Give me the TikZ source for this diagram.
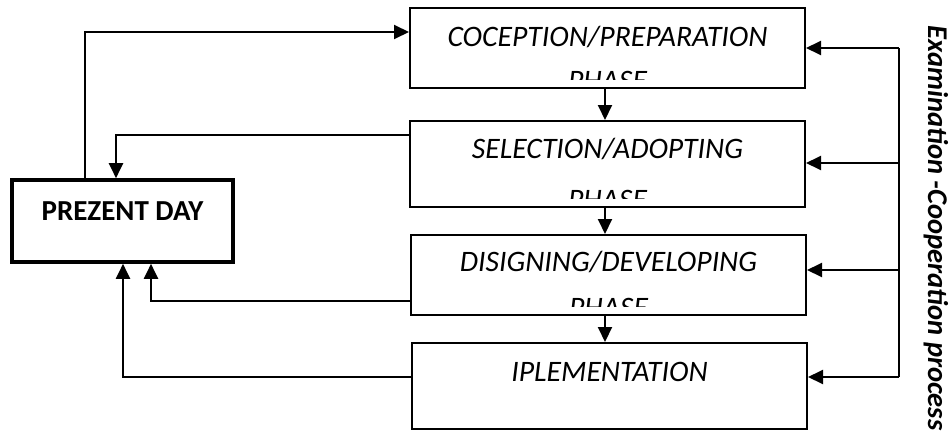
\documentclass[tikz,border=0pt]{standalone}
\usepackage{fontspec}
\setmainfont{Carlito}
\usepackage{tikz}
\usetikzlibrary{calc,positioning,arrows.meta}

\begin{document}
\begin{tikzpicture}[x=1pt,y=-1pt,
  phasebox/.style={draw,line width=2pt,minimum width=395pt,inner sep=0pt},
  daybox/.style={draw,line width=3.6pt,minimum width=221pt,minimum height=82pt,inner sep=0pt},
  phasetext/.style={font=\fontsize{29.7}{32}\selectfont\itshape,inner sep=0pt},
  flow/.style={line width=2pt,-{Triangle[length=15pt,width=14pt]}}]
\useasboundingbox (0,0) rectangle (950,434);

\node[daybox] (day) at (122.5,221) {};
\node[font=\fontsize{29}{32}\selectfont\bfseries,inner sep=0pt] (day-t) at (122.5,211) {PREZENT DAY};

\node[phasebox,minimum height=80pt] (conc) at (607.5,48) {};
\node[phasebox,minimum height=86pt] (sel) at (607.5,164) {};
\node[phasebox,minimum height=80pt] (des) at (608.5,275) {};
\node[phasebox,minimum height=86pt] (impl) at (609.5,386) {};

\node[phasetext] (conc-t) at ([yshift=-30pt]conc.north) {COCEPTION/PREPARATION};
\node[phasetext] (sel-t) at ([yshift=-29pt]sel.north) {SELECTION/ADOPTING};
\node[phasetext] (des-t) at ([yshift=-28pt]des.north) {DISIGNING/DEVELOPING};
\node[phasetext] (impl-t) at ([yshift=-30pt]impl.north) {IPLEMENTATION};

% second lines cut off by the box
\begin{scope}
\clip ([yshift=10pt]conc.south west) rectangle (conc.north east);
\node[phasetext,anchor=base] (conc-p) at ([yshift=-1pt]conc.south) {PHASE};
\end{scope}
\begin{scope}
\clip ([yshift=10pt]sel.south west) rectangle (sel.north east);
\node[phasetext,anchor=base] (sel-p) at ([yshift=-1pt]sel.south) {PHASE};
\end{scope}
\begin{scope}
\clip ([yshift=10pt]des.south west) rectangle (des.north east);
\node[phasetext,anchor=base] (des-p) at ([yshift=-1pt]des.south) {PHASE};
\end{scope}

\node[rotate=-90,font=\fontsize{28.6}{32}\selectfont\bfseries\itshape,inner sep=0pt] (exam) at (936,228) {Examination -Cooperation process};

% feedback to the present day
\coordinate (k1) at (85,32);
\coordinate (k2) at (116,135);
\coordinate (k3) at (151,301);
\coordinate (k4) at (123,377);
\draw[flow] (day.north -| k1) |- (conc.west |- k1);
\draw[flow] (sel.west |- k2) -| (day.north -| k2);
\draw[flow] (des.west |- k3) -| (day.south -| k3);
\draw[flow] (impl.west |- k4) -| (day.south -| k4);

% phase to phase
\coordinate (mid) at (605,0);
\draw[flow] (conc.south -| mid) -- (sel.north -| mid);
\draw[flow] (sel.south -| mid) -- (des.north -| mid);
\draw[flow] (des.south -| mid) -- (impl.north -| mid);

% examination line on the right
\coordinate (b1) at (899,48);
\coordinate (b2) at (899,163);
\coordinate (b3) at (899,270);
\coordinate (b4) at (899,377);
\draw[line width=2pt] (b1) -- (b4);
\draw[flow] (b1) -- (b1 -| conc.east);
\draw[flow] (b2) -- (b2 -| sel.east);
\draw[flow] (b3) -- (b3 -| des.east);
\draw[flow] (b4) -- (b4 -| impl.east);

\end{tikzpicture}
\end{document}
